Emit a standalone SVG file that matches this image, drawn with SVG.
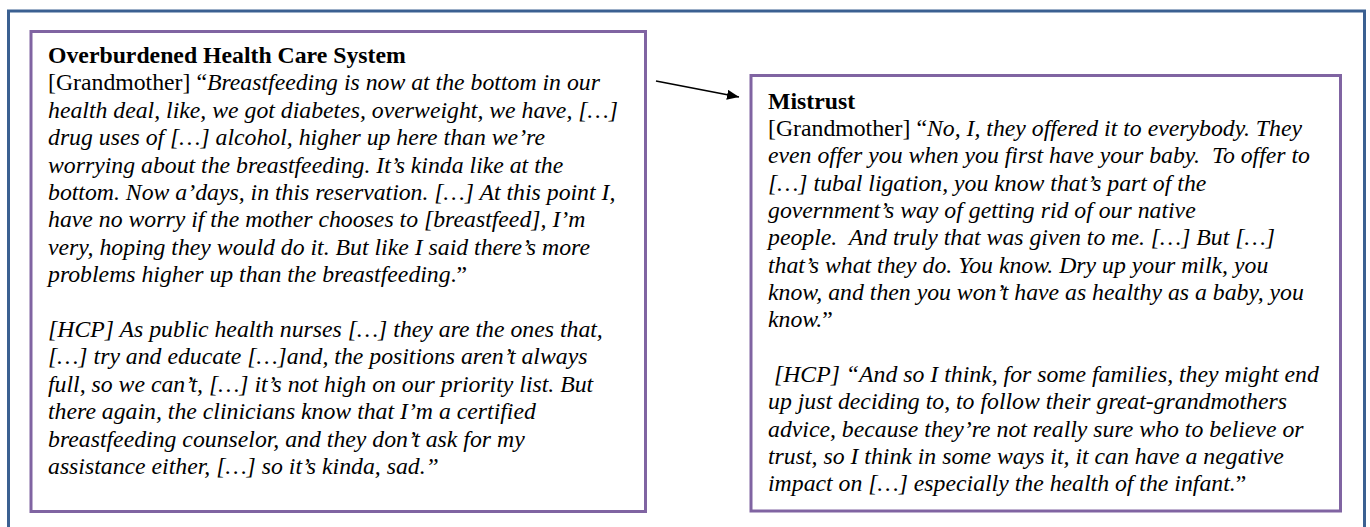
<svg xmlns="http://www.w3.org/2000/svg" width="1370" height="527" viewBox="0 0 1370 527">
<style>
.t{font-family:"Liberation Serif","Times New Roman",serif;font-size:23.75px;fill:#000;white-space:pre}
.b{font-weight:bold}
.i{font-style:italic}
.box{fill:#fff;stroke:#8064A2;stroke-width:3}
.frame{fill:none;stroke:#3B6091;stroke-width:3}
.conn{stroke:#000;stroke-width:1.5;fill:none}
</style>
<defs>
<marker id="ah" viewBox="0 0 12 10" refX="12" refY="5" markerWidth="12" markerHeight="10" markerUnits="userSpaceOnUse" orient="auto">
<path d="M0,0 L12,5 L0,10 Z" fill="#000"/>
</marker>
</defs>
<rect width="1370" height="527" fill="#fff"/>
<rect class="frame" x="8.5" y="11" width="1356" height="540"/>
<g id="node-overburdened">
<rect class="box" x="31" y="31.5" width="614.5" height="480"/>
<text class="t" x="48" y="63"><tspan class="b">Overburdened Health Care System</tspan></text>
<text class="t" x="48" y="90.4">[Grandmother] “<tspan class="i">Breastfeeding is now at the bottom in our</tspan></text>
<text class="t i" x="48" y="117.8">health deal, like, we got diabetes, overweight, we have, […]</text>
<text class="t i" x="48" y="145.2">drug uses of […] alcohol, higher up here than we’re</text>
<text class="t i" x="48" y="172.6">worrying about the breastfeeding. It’s kinda like at the</text>
<text class="t i" x="48" y="200">bottom. Now a’days, in this reservation. […] At this point I,</text>
<text class="t i" x="48" y="227.4">have no worry if the mother chooses to [breastfeed], I’m</text>
<text class="t i" x="48" y="254.8">very, hoping they would do it. But like I said there’s more</text>
<text class="t" x="48" y="282.2"><tspan class="i">problems higher up than the breastfeeding</tspan>.”</text>
<text class="t i" x="48" y="337">[HCP] As public health nurses […] they are the ones that,</text>
<text class="t i" x="48" y="364.4">[…] try and educate […]and, the positions aren’t always</text>
<text class="t i" x="48" y="391.8">full, so we can’t, […] it’s not high on our priority list. But</text>
<text class="t i" x="48" y="419.2">there again, the clinicians know that I’m a certified</text>
<text class="t i" x="48" y="446.6">breastfeeding counselor, and they don’t ask for my</text>
<text class="t i" x="48" y="474">assistance either, […] so it’s kinda, sad.”</text>
</g>
<g id="node-mistrust">
<rect class="box" x="751" y="75.5" width="589.5" height="435.5"/>
<text class="t" x="768" y="108.5"><tspan class="b">Mistrust</tspan></text>
<text class="t" x="768" y="135.85">[Grandmother] “<tspan class="i">No, I, they offered it to everybody. They</tspan></text>
<text class="t i" x="768" y="163.2">even offer you when you first have your baby.  To offer to</text>
<text class="t i" x="768" y="190.55">[…] tubal ligation, you know that’s part of the</text>
<text class="t i" x="768" y="217.9">government’s way of getting rid of our native</text>
<text class="t i" x="768" y="245.25">people.  And truly that was given to me. […] But […]</text>
<text class="t i" x="768" y="272.6">that’s what they do. You know. Dry up your milk, you</text>
<text class="t i" x="768" y="299.95">know, and then you won’t have as healthy as a baby, you</text>
<text class="t" x="768" y="327.3"><tspan class="i">know.</tspan>”</text>
<text class="t i" x="768" y="382"> [HCP] “And so I think, for some families, they might end</text>
<text class="t i" x="768" y="409.35">up just deciding to, to follow their great-grandmothers</text>
<text class="t i" x="768" y="436.7">advice, because they’re not really sure who to believe or</text>
<text class="t i" x="768" y="464.05">trust, so I think in some ways it, it can have a negative</text>
<text class="t" x="768" y="491.4"><tspan class="i">impact on […] especially the health of the infant.</tspan>”</text>
</g>
<g id="connectors">
<line class="conn" x1="656" y1="81" x2="739" y2="97" marker-end="url(#ah)"/>
</g>
</svg>
